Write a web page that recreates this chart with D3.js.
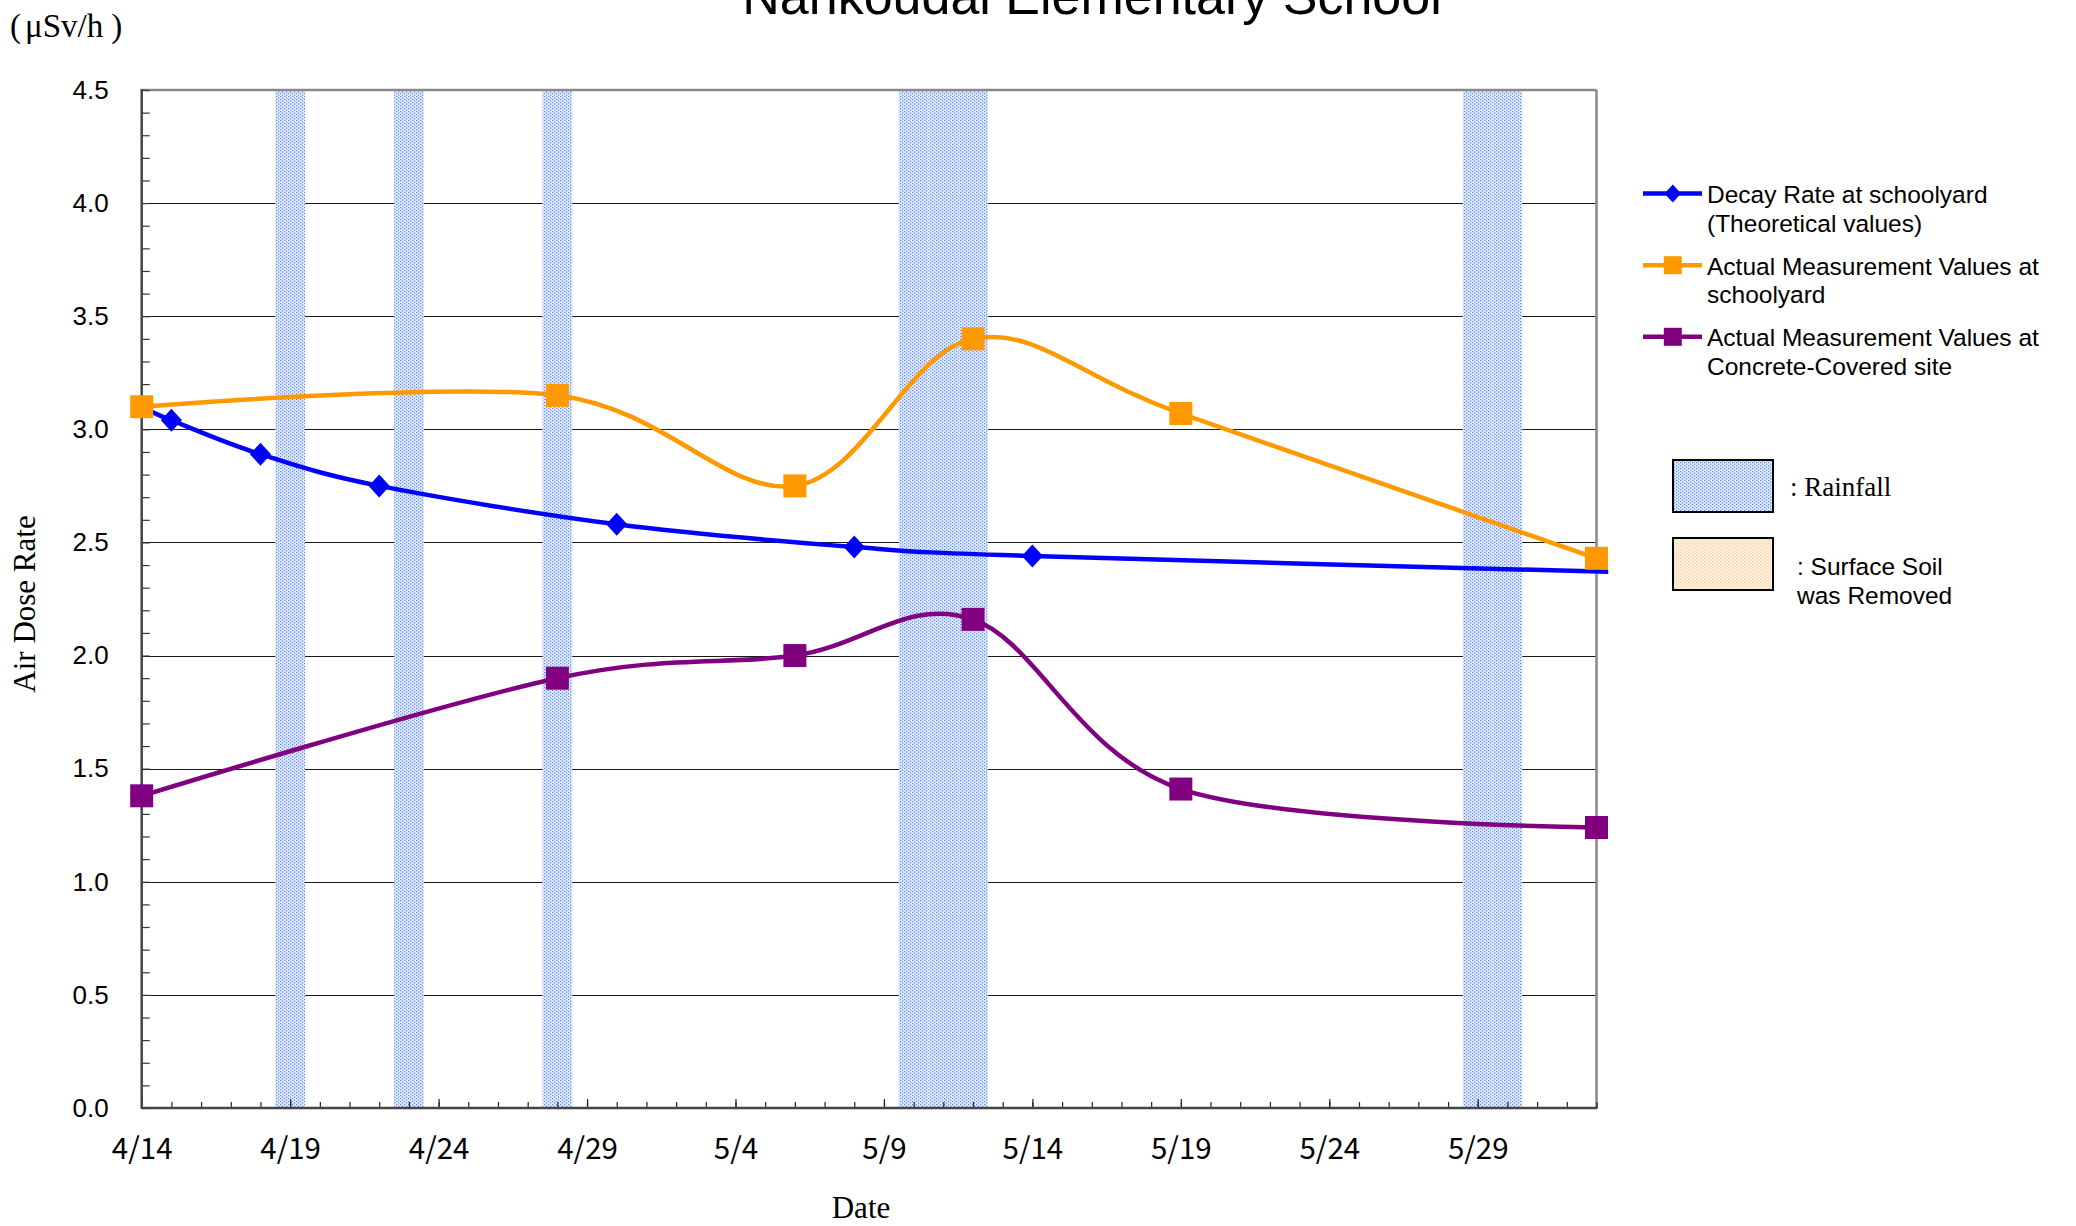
<!DOCTYPE html>
<html><head><meta charset="utf-8">
<script src="https://cdn.jsdelivr.net/npm/d3@7"></script>
<style>html,body{margin:0;padding:0;background:#fff;} svg{display:block;}</style>
</head><body>
<svg id="chart" width="2076" height="1226"></svg>
<script>
// ---------------- data ----------------
const chartTitle = "Nankoudai Elementary School";
const unitLabel = "(μSv/h)";
const yAxisTitle = "Air Dose Rate";
const xAxisTitle = "Date";
const decayDates = ["2011-04-14","2011-04-15","2011-04-18","2011-04-22","2011-04-30","2011-05-08","2011-05-14","2011-06-02T09:30"];
const decayValues = [3.10, 3.04, 2.89, 2.75, 2.58, 2.48, 2.44, 2.37];
const decayMarker = [true, true, true, true, true, true, true, false];
const measureDates = ["2011-04-14","2011-04-28","2011-05-06","2011-05-12","2011-05-19","2011-06-02"];
const schoolyardValues = [3.10, 3.15, 2.75, 3.40, 3.07, 2.43];
const concreteValues = [1.38, 1.90, 2.00, 2.16, 1.41, 1.24];
const rainfallDates = ["2011-04-19","2011-04-23","2011-04-28","2011-05-10","2011-05-11","2011-05-12","2011-05-29","2011-05-30"];
const xTickLabels = ["4/14","4/19","4/24","4/29","5/4","5/9","5/14","5/19","5/24","5/29"];
const xDomainLabels = ["4/14","6/2"];
const yTickLabels = ["0.0","0.5","1.0","1.5","2.0","2.5","3.0","3.5","4.0","4.5"];
const seriesLegend = [
  ["Decay Rate at schoolyard", "(Theoretical values)"],
  ["Actual Measurement Values at", "schoolyard"],
  ["Actual Measurement Values at", "Concrete-Covered site"]
];
const seriesColors = ["#0000FF", "#FF9900", "#800080"];
const seriesMarkers = ["diamond", "square", "square"];
const patternLegend = [[": Rainfall"], [": Surface Soil", "was Removed"]];

// ---------------- helpers ----------------
const YEAR = 2011;
const parseISO = s => new Date(s.length === 10 ? s + "T00:00:00Z" : s + ":00Z");
const parseMD = s => { const [m, d] = s.split("/").map(Number); return new Date(Date.UTC(YEAR, m - 1, d)); };

const svg = d3.select("#chart");
const W = 2076, H = 1226;
svg.append("rect").attr("width", W).attr("height", H).attr("fill", "#fff");

const plot = {left: 141.7, right: 1596.5, top: 90, bottom: 1108};

const x = d3.scaleUtc().domain(xDomainLabels.map(parseMD)).range([plot.left, plot.right]);
const y = d3.scaleLinear().domain([0, 4.5]).range([plot.bottom, plot.top]);

const SANS = "'Liberation Sans', Arial, sans-serif";
const GOTHIC = "'Noto Sans CJK JP', 'Noto Sans', sans-serif";
const SERIF = "'Liberation Serif', 'Times New Roman', serif";

// patterns
const defs = svg.append("defs");
function dotPattern(id, bg, dot) {
  const p = defs.append("pattern").attr("id", id).attr("patternUnits", "userSpaceOnUse")
    .attr("width", 4).attr("height", 3);
  p.append("rect").attr("width", 4).attr("height", 3).attr("fill", bg);
  p.append("rect").attr("x", 0).attr("y", 0).attr("width", 1.3).attr("height", 1.2).attr("fill", dot);
  p.append("rect").attr("x", 2).attr("y", 1.5).attr("width", 1.3).attr("height", 1.2).attr("fill", dot);
}
dotPattern("rain", "#e6eefe", "#5584f3");
dotPattern("soil", "#fff4e4", "#f7cb92");

// gridlines
const yVals = yTickLabels.map(Number);
svg.append("g").selectAll("line").data(yVals.filter(v => v > 0 && v < 4.5)).join("line")
  .attr("x1", plot.left).attr("x2", plot.right)
  .attr("y1", d => Math.round(y(d)) + 0.5).attr("y2", d => Math.round(y(d)) + 0.5)
  .attr("stroke", "#1a1a1a").attr("stroke-width", 1);

// rainfall bands
svg.append("g").selectAll("rect").data(rainfallDates.map(parseISO)).join("rect")
  .attr("x", d => x(d3.utcHour.offset(d, -12)))
  .attr("width", d => x(d3.utcHour.offset(d, 12)) - x(d3.utcHour.offset(d, -12)))
  .attr("y", plot.top).attr("height", plot.bottom - plot.top)
  .attr("fill", "url(#rain)");

// frame (top & right)
svg.append("line").attr("x1", plot.left).attr("x2", plot.right).attr("y1", plot.top).attr("y2", plot.top)
  .attr("stroke", "#888").attr("stroke-width", 2.5);
svg.append("line").attr("x1", plot.right).attr("x2", plot.right).attr("y1", plot.top).attr("y2", plot.bottom)
  .attr("stroke", "#888").attr("stroke-width", 2.5);

// Y axis minor ticks
const yMinor = d3.range(0, 46).map(i => i / 10);
svg.append("g").attr("transform", `translate(${plot.left},0)`)
  .call(d3.axisLeft(y).tickValues(yMinor).tickSize(-8).tickFormat(""))
  .call(g => g.select(".domain").remove())
  .call(g => g.selectAll(".tick line").attr("stroke", "#333").attr("stroke-width", 1.2));
// Y axis labels
svg.append("g").attr("transform", `translate(${plot.left},0)`)
  .call(d3.axisLeft(y).tickValues(yVals).tickSize(0).tickPadding(33).tickFormat((d, i) => yTickLabels[i]))
  .call(g => g.select(".domain").remove())
  .call(g => g.selectAll(".tick text").attr("font-family", SANS).attr("font-size", 26).attr("fill", "#000"));

// X axis minor ticks (daily)
const xMinor = d3.utcDay.range(x.domain()[0], d3.utcDay.offset(x.domain()[1], 1));
svg.append("g").attr("transform", `translate(0,${plot.bottom})`)
  .call(d3.axisBottom(x).tickValues(xMinor).tickSize(-6).tickFormat(""))
  .call(g => g.select(".domain").remove())
  .call(g => g.selectAll(".tick line").attr("stroke", "#222").attr("stroke-width", 1.2));
// X axis major ticks + labels
const xMajor = xTickLabels.map(parseMD);
svg.append("g").attr("transform", `translate(0,${plot.bottom})`)
  .call(d3.axisBottom(x).tickValues(xMajor).tickSize(-9).tickPadding(30).tickFormat((d, i) => xTickLabels[i]))
  .call(g => g.select(".domain").remove())
  .call(g => g.selectAll(".tick line").attr("stroke", "#222").attr("stroke-width", 1.2))
  .call(g => g.selectAll(".tick text").attr("font-family", GOTHIC).attr("font-size", 29.5).attr("fill", "#000"));

// left & bottom axis lines
svg.append("line").attr("x1", plot.left).attr("x2", plot.left).attr("y1", plot.top - 1).attr("y2", plot.bottom + 1)
  .attr("stroke", "#444").attr("stroke-width", 2.5);
svg.append("line").attr("x1", plot.left).attr("x2", plot.right + 1).attr("y1", plot.bottom).attr("y2", plot.bottom)
  .attr("stroke", "#444").attr("stroke-width", 2.5);

// series
const series = [
  {dates: decayDates, values: decayValues, show: decayMarker},
  {dates: measureDates, values: schoolyardValues, show: measureDates.map(() => true)},
  {dates: measureDates, values: concreteValues, show: measureDates.map(() => true)}
].map((s, i) => ({
  points: s.dates.map((d, j) => ({date: parseISO(d), value: s.values[j], show: s.show[j]})),
  color: seriesColors[i], marker: seriesMarkers[i]
}));

const line = d3.line().x(d => x(d.date)).y(d => y(d.value)).curve(d3.curveCardinal.tension(0));
const markerPath = (type, size) => type === "diamond"
  ? `M0,${-size}L${size * 0.92},0L0,${size}L${-size * 0.92},0Z`
  : `M${-size},${-size}H${size}V${size}H${-size}Z`;

series.forEach(s => {
  const g = svg.append("g");
  g.append("path").attr("d", line(s.points)).attr("fill", "none")
    .attr("stroke", s.color).attr("stroke-width", 4.5).attr("stroke-linejoin", "round");
  g.selectAll("path.m").data(s.points.filter(p => p.show)).join("path").attr("class", "m")
    .attr("transform", p => `translate(${x(p.date)},${y(p.value)})`)
    .attr("d", markerPath(s.marker, 11.5))
    .attr("fill", s.color);
});

// titles
svg.append("text").attr("x", 1092).attr("y", 14).attr("text-anchor", "middle")
  .attr("font-family", SANS).attr("font-size", 52).attr("fill", "#000").text(chartTitle);
const unit = svg.append("text").attr("x", 10).attr("y", 37)
  .attr("font-family", SERIF).attr("font-size", 33).attr("fill", "#000");
unit.append("tspan").text(unitLabel.slice(0, 1));
unit.append("tspan").attr("dx", 4).text(unitLabel.slice(1, -1));
unit.append("tspan").attr("dx", 8).text(unitLabel.slice(-1));
svg.append("text").attr("transform", "translate(35,604) rotate(-90)").attr("text-anchor", "middle")
  .attr("font-family", SERIF).attr("font-size", 31).attr("fill", "#000").text(yAxisTitle);
svg.append("text").attr("x", 861).attr("y", 1218).attr("text-anchor", "middle")
  .attr("font-family", SERIF).attr("font-size", 31).attr("fill", "#000").text(xAxisTitle);

// legend (series)
const lg = svg.append("g").attr("transform", "translate(1643,193.6)");
seriesLegend.forEach((lines, i) => {
  const g = lg.append("g").attr("transform", `translate(0,${i * 71.6})`);
  g.append("line").attr("x1", 0).attr("x2", 59).attr("stroke", seriesColors[i]).attr("stroke-width", 4.5);
  g.append("path").attr("transform", "translate(29.8,0)")
    .attr("d", markerPath(seriesMarkers[i], 9)).attr("fill", seriesColors[i]);
  lines.forEach((t, k) => g.append("text").attr("x", 64).attr("y", 9.5 + k * 28.6)
    .attr("font-family", SANS).attr("font-size", 24.5).attr("fill", "#000").text(t));
});

// legend (patterns)
const pl = svg.append("g");
[["rain", 460], ["soil", 538]].forEach(([id, top]) => {
  pl.append("rect").attr("x", 1673).attr("y", top).attr("width", 100).attr("height", 52)
    .attr("fill", `url(#${id})`).attr("stroke", "#000").attr("stroke-width", 2);
});
pl.append("text").attr("x", 1790).attr("y", 496).attr("font-family", SERIF).attr("font-size", 27)
  .attr("fill", "#000").text(patternLegend[0][0]);
patternLegend[1].forEach((t, k) => pl.append("text").attr("x", 1797).attr("y", 574.5 + k * 29.5)
  .attr("font-family", SANS).attr("font-size", 24.5).attr("fill", "#000").text(t));
</script>
</body></html>
